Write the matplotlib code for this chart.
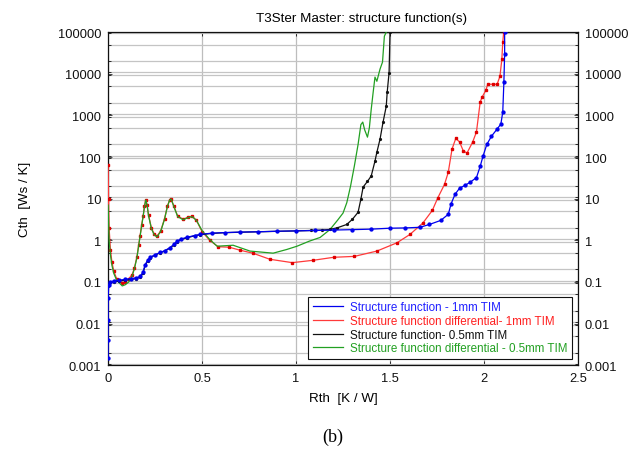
import matplotlib
matplotlib.use("Agg")
import matplotlib.pyplot as plt
from matplotlib.ticker import LogLocator, FuncFormatter, NullFormatter

plt.rcParams["font.family"] = ["Liberation Sans", "DejaVu Sans"]

# structure function, 1mm TIM
sf1_x = [0, 0, 0, 0, 0.003, 0.01, 0.03, 0.06, 0.09, 0.12, 0.15, 0.17, 0.185, 0.197,
         0.21, 0.223, 0.25, 0.277, 0.30, 0.33, 0.35, 0.366, 0.39, 0.42, 0.46, 0.49,
         0.55, 0.62, 0.70, 0.80, 0.90, 1.00, 1.10, 1.20, 1.30, 1.40, 1.50, 1.58, 1.66,
         1.71, 1.77, 1.81, 1.825, 1.846, 1.87, 1.90, 1.925, 1.96, 1.98, 1.995, 2.015,
         2.04, 2.07, 2.09, 2.10, 2.106, 2.11, 2.11]
sf1_y = [0.0015, 0.004, 0.012, 0.04, 0.085, 0.10, 0.105, 0.11, 0.115, 0.12, 0.125,
         0.135, 0.17, 0.26, 0.33, 0.39, 0.45, 0.51, 0.56, 0.67, 0.80, 0.95, 1.08,
         1.18, 1.30, 1.38, 1.48, 1.53, 1.57, 1.60, 1.65, 1.68, 1.72, 1.76, 1.80,
         1.85, 1.95, 1.98, 2.05, 2.4, 3.0, 4.2, 7.5, 12.7, 17.8, 21, 24.5, 32, 60,
         105, 200, 316, 470, 620, 1200, 6300, 30000, 100000]

# differential structure function, 1mm TIM
dsf1_x = [0, 0.002, 0.005, 0.012, 0.02, 0.03, 0.045, 0.073, 0.09, 0.11, 0.128, 0.14,
          0.153, 0.162, 0.17, 0.178, 0.186, 0.193, 0.2, 0.207, 0.215, 0.23, 0.245,
          0.26, 0.28, 0.30, 0.315, 0.327, 0.335, 0.35, 0.37, 0.40, 0.425, 0.447,
          0.47, 0.50, 0.54, 0.585, 0.645, 0.70, 0.77, 0.86, 0.98, 1.09, 1.20, 1.31,
          1.43, 1.537, 1.606, 1.675, 1.725, 1.755, 1.79, 1.81, 1.83, 1.85, 1.87,
          1.89, 1.91, 1.94, 1.96, 1.98, 1.99, 2.01, 2.02, 2.05, 2.07, 2.085, 2.095,
          2.10, 2.105]
dsf1_y = [65, 10, 2.0, 0.6, 0.3, 0.18, 0.12, 0.093, 0.1, 0.12, 0.15, 0.22, 0.4, 0.75,
          1.3, 2.3, 3.8, 6.5, 9.5, 7.0, 4.0, 2.0, 1.4, 1.25, 1.7, 3.3, 6.5, 9.3, 10,
          6.5, 3.8, 3.2, 3.6, 3.8, 3.0, 1.6, 1.0, 0.7, 0.68, 0.58, 0.49, 0.35, 0.29,
          0.33, 0.39, 0.41, 0.55, 0.87, 1.38, 2.6, 5.2, 10.6, 22, 43, 155, 280, 230,
          140, 125, 230, 400, 2100, 2750, 4000, 5600, 5600, 5600, 8700, 22000,
          57000, 100000]

# structure function, 0.5mm TIM
sf05_x = [0, 0.005, 0.03, 0.06, 0.09, 0.12, 0.15, 0.17, 0.185, 0.197, 0.21, 0.223,
          0.25, 0.277, 0.30, 0.33, 0.35, 0.366, 0.39, 0.42, 0.46, 0.49, 0.55, 0.62,
          0.70, 0.80, 0.90, 1.00, 1.08, 1.14, 1.18, 1.22, 1.27, 1.30, 1.33, 1.345,
          1.357, 1.38, 1.40, 1.42, 1.43, 1.447, 1.463, 1.48, 1.485, 1.495, 1.50]
sf05_y = [0.08, 0.095, 0.10, 0.105, 0.11, 0.115, 0.12, 0.13, 0.16, 0.25, 0.32, 0.38,
          0.44, 0.50, 0.55, 0.65, 0.78, 0.92, 1.05, 1.15, 1.28, 1.36, 1.46, 1.52,
          1.56, 1.60, 1.64, 1.68, 1.72, 1.76, 1.82, 2.0, 2.4, 3.2, 4.7, 9.8, 19, 26,
          35, 80, 130, 270, 690, 1660, 3600, 10700, 100000]

# differential structure function, 0.5mm TIM
dsf05_x = [0, 0.002, 0.005, 0.012, 0.02, 0.03, 0.045, 0.075, 0.09, 0.11, 0.128, 0.14,
           0.153, 0.162, 0.17, 0.178, 0.186, 0.193, 0.2, 0.207, 0.215, 0.23, 0.245,
           0.26, 0.28, 0.30, 0.315, 0.327, 0.335, 0.35, 0.37, 0.40, 0.425, 0.447,
           0.47, 0.50, 0.54, 0.58, 0.665, 0.755, 0.878, 0.95, 1.005, 1.07, 1.128,
           1.18, 1.22, 1.25, 1.27, 1.29, 1.31, 1.33, 1.345, 1.355, 1.365, 1.38, 1.39,
           1.40, 1.41, 1.42, 1.43, 1.447, 1.46, 1.47, 1.48]
dsf05_y = [7, 3.0, 1.0, 0.45, 0.25, 0.16, 0.11, 0.08, 0.085, 0.1, 0.14, 0.21, 0.38,
           0.72, 1.25, 2.2, 3.7, 6.3, 9.3, 7.0, 3.9, 1.9, 1.35, 1.2, 1.65, 3.2, 6.4,
           9.2, 9.8, 6.4, 3.7, 3.1, 3.5, 3.7, 3.0, 1.7, 1.05, 0.72, 0.76, 0.55, 0.49,
           0.6, 0.72, 0.95, 1.17, 1.8, 3.0, 4.5, 8, 20, 60, 200, 600, 690, 450, 300,
           500, 1400, 3500, 8300, 6600, 13000, 19000, 80000, 100000]

legend_labels = ["Structure function - 1mm TIM",
                 "Structure function differential- 1mm TIM",
                 "Structure function- 0.5mm TIM",
                 "Structure function differential - 0.5mm TIM"]
x_ticks = [0, 0.5, 1, 1.5, 2, 2.5]
y_decades = [1e-3, 1e-2, 1e-1, 1, 10, 100, 1e3, 1e4, 1e5]

fig = plt.figure(figsize=(6.4, 4.6), dpi=100)
ax = fig.add_axes([0.169, 0.204, 0.734, 0.724])

ax.plot(sf1_x, sf1_y, color="#0000ee", lw=0.9, marker="o", ms=2.1, mec="#0000ee",
        mfc="#0000ee", label=legend_labels[0], zorder=4)
ax.plot(dsf1_x, dsf1_y, color="#ff3a3a", lw=0.9, marker="s", ms=1.9, mec="#e00000",
        mfc="#e00000", label=legend_labels[1], zorder=3)
ax.plot(sf05_x, sf05_y, color="#111111", lw=0.9, marker="o", ms=1.3,
        label=legend_labels[2], zorder=3.5)
ax.plot(dsf05_x, dsf05_y, color="#22a022", lw=0.9, label=legend_labels[3], zorder=3.2)

ax.set_yscale("log")
ax.set_xlim(0, 2.5)
ax.set_ylim(1e-3, 1e5)
ax.set_xticks(x_ticks)
ax.set_xticklabels(["%g" % v for v in x_ticks])
ax.set_yticks(y_decades)
ax.yaxis.set_major_formatter(FuncFormatter(lambda v, p: "%g" % v))
# grid lines sit at 2 and 5 inside each decade, the decade itself is a double line
ax.yaxis.set_minor_locator(LogLocator(base=10, subs=(0.93, 1.08, 2.0, 5.0), numticks=30))
ax.yaxis.set_minor_formatter(NullFormatter())
ax.grid(True, axis="x", which="major", color="#bdbdbd", lw=0.9)
ax.grid(True, axis="y", which="minor", color="#c4c4c4", lw=0.9)
ax.set_axisbelow(True)

ax.tick_params(which="both", direction="in", top=True, right=True, labelright=True,
               labelsize=9.3, colors="#111111", length=3, width=0.6, pad=5)
ax.tick_params(axis="y", which="minor", length=2)
for s in ax.spines.values():
    s.set_color("#111111")
    s.set_linewidth(0.9)

ax.set_title("T3Ster Master: structure function(s)", fontsize=9.6, x=0.54, pad=8)
ax.set_xlabel("Rth  [K / W]", fontsize=9.6, labelpad=6)
ax.set_ylabel("Cth  [Ws / K]", fontsize=9.6, labelpad=19)

leg = ax.legend(loc="lower right", bbox_to_anchor=(0.988, 0.018), fontsize=8.4,
                frameon=True, fancybox=False, edgecolor="#111111", framealpha=1,
                handlelength=2.6, handletextpad=0.6, borderpad=0.4, labelspacing=0.15,
                borderaxespad=0)
leg.get_frame().set_linewidth(0.8)
for h in leg.legend_handles:
    h.set_marker("")
for t, c in zip(leg.get_texts(), ["#2020ff", "#ff2020", "#111111", "#22a022"]):
    t.set_color(c)

fig.text(0.52, 0.05, "(b)", fontsize=13, family=["Liberation Serif", "DejaVu Serif"],
         ha="center", va="center")

fig.savefig("out.png", dpi=100)
